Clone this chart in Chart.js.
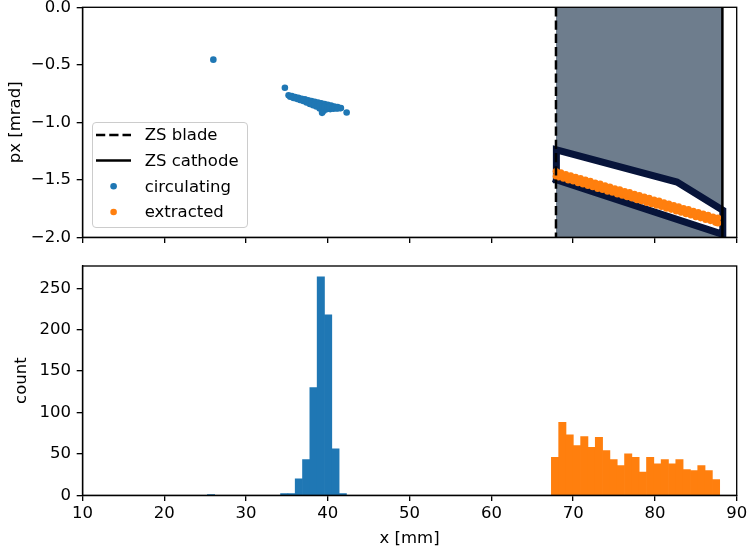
<!DOCTYPE html>
<html>
<head>
<meta charset="utf-8">
<script src="https://cdn.jsdelivr.net/npm/chart.js@4.4.1/dist/chart.umd.min.js"></script>
<style>
html,body{margin:0;padding:0;background:#fff;width:751px;height:550px;overflow:hidden;font-family:'DejaVu Sans',sans-serif;}
#c1{position:absolute;left:0;top:0;}
#c2{position:absolute;left:0;top:255px;}
#legend{position:absolute;left:91.7px;top:121.7px;width:156.6px;height:106.6px;box-sizing:border-box;border:1.3px solid #cccccc;border-radius:4px;background:rgba(255,255,255,0.8);z-index:5;}
#legend svg{position:absolute;left:-1.3px;top:-1.3px;}
.lg{position:absolute;left:52px;height:20px;line-height:20px;font-size:16.5px;color:#000;white-space:nowrap;}
</style>
</head>
<body>
<canvas id="c1" width="751" height="255"></canvas>
<canvas id="c2" width="751" height="295"></canvas>
<div id="legend">
  <svg width="157" height="107">
    <line x1="5" y1="14" x2="40" y2="14" stroke="#000" stroke-width="2.5" stroke-dasharray="9.25 4"></line>
    <line x1="5" y1="39.6" x2="40" y2="39.6" stroke="#000" stroke-width="2.5"></line>
    <circle cx="22.6" cy="65.3" r="3.3" fill="#1f77b4"></circle>
    <circle cx="22.6" cy="91" r="3.3" fill="#ff7f0e"></circle>
  </svg>
  <div class="lg" style="top:2.7px">ZS blade</div>
  <div class="lg" style="top:28.3px">ZS cathode</div>
  <div class="lg" style="top:54px">circulating</div>
  <div class="lg" style="top:79.7px">extracted</div>
</div>
<script>
// ---------------- data ----------------
const xTicks = [10, 20, 30, 40, 50, 60, 70, 80, 90];
const pxTicks = [-2.0, -1.5, -1.0, -0.5, 0.0];
const countTicks = [0, 50, 100, 150, 200, 250];

const bladeX = 67.9;      // ZS blade position [mm]
const cathodeX = 88.25;   // ZS cathode position [mm]

// circulating particles (x [mm], px [mrad])
const circX = [26.0, 34.75, 35.2, 35.6, 36.0, 36.4, 36.8, 37.2, 37.6, 38.0, 38.4, 38.8, 39.2, 39.6, 40.0, 40.4, 40.8, 41.2, 41.6,
               35.4, 35.8, 36.2, 36.6, 37.0, 37.4, 37.8, 38.2, 38.6, 39.0, 39.3, 39.5, 39.9, 40.3, 40.7, 41.1, 41.5,
               38.0, 38.4, 38.8, 39.0, 39.4, 39.6, 40.0, 40.2, 40.6, 40.8, 41.2, 42.3];
const circY = [-0.455, -0.700, -0.765, -0.772, -0.780, -0.788, -0.795, -0.800, -0.808, -0.815, -0.822, -0.828, -0.835, -0.842, -0.848, -0.855, -0.862, -0.868, -0.875,
               -0.778, -0.788, -0.796, -0.805, -0.815, -0.828, -0.840, -0.852, -0.862, -0.880, -0.918, -0.900, -0.885, -0.885, -0.882, -0.880, -0.878,
               -0.835, -0.845, -0.850, -0.855, -0.860, -0.865, -0.870, -0.868, -0.875, -0.872, -0.877, -0.915];

// extracted particles (x [mm], px [mrad])
const extrX = [67.9, 68.5, 69.1, 69.7, 70.3, 70.9, 71.5, 72.1, 72.7, 73.3, 73.9, 74.5, 75.1, 75.7, 76.3, 76.9, 77.5, 78.1, 78.7, 79.3,
               79.9, 80.5, 81.1, 81.7, 82.3, 82.9, 83.5, 84.1, 84.7, 85.3, 85.9, 86.5, 87.1, 87.7,
               67.9, 68.2, 68.8, 69.4, 70.0, 70.6, 71.2, 71.8, 72.4, 73.0, 73.6, 74.2, 74.8, 75.4, 76.0, 76.6, 77.2, 77.8, 78.4, 79.0,
               79.6, 80.2, 80.8, 81.4, 82.0, 82.6, 83.2, 83.8, 84.4, 85.0, 85.6, 86.2, 86.8, 87.4, 87.7,
               68.05, 68.65, 69.25, 69.85, 70.45, 71.05, 71.65, 72.25, 72.85, 73.45, 74.05, 74.65, 75.25, 75.85, 76.45, 77.05, 77.65,
               78.25, 78.85, 79.45, 80.05, 80.65, 81.25, 81.85, 82.45, 83.05, 83.65, 84.25, 84.85, 85.45, 86.05, 86.65, 87.25, 87.6];
const extrY = [-1.426, -1.436, -1.452, -1.462, -1.476, -1.486, -1.501, -1.511, -1.525, -1.535, -1.550, -1.560, -1.575, -1.585, -1.599, -1.609, -1.624, -1.634, -1.648, -1.659,
               -1.673, -1.683, -1.698, -1.708, -1.722, -1.732, -1.747, -1.757, -1.771, -1.782, -1.796, -1.806, -1.821, -1.831,
               -1.470, -1.478, -1.488, -1.503, -1.513, -1.527, -1.538, -1.552, -1.562, -1.577, -1.587, -1.601, -1.611, -1.626, -1.636, -1.650, -1.661, -1.675, -1.685, -1.700,
               -1.710, -1.724, -1.734, -1.749, -1.759, -1.773, -1.784, -1.798, -1.808, -1.823, -1.833, -1.847, -1.857, -1.872, -1.877,
               -1.452, -1.463, -1.477, -1.487, -1.502, -1.512, -1.526, -1.537, -1.551, -1.561, -1.576, -1.586, -1.600, -1.610, -1.625, -1.635, -1.649,
               -1.660, -1.674, -1.684, -1.699, -1.709, -1.724, -1.734, -1.748, -1.758, -1.773, -1.783, -1.797, -1.808, -1.822, -1.832, -1.847, -1.853];

// extraction acceptance polygon (top and bottom boundaries)
const polyTopX = [67.95, 82.7, 88.3];
const polyTopY = [-1.24, -1.52, -1.765];
const polyBotX = [67.95, 88.3];
const polyBotY = [-1.50, -1.975];

// histogram of x
const circBinCenters = [25.718, 34.668, 35.563, 36.458, 37.353, 38.248, 39.143, 40.038, 40.933, 41.828];
const circCounts     = [1, 2, 2, 20, 43, 130, 264, 218, 56, 2];
const extrBinCenters = [67.783, 68.678, 69.573, 70.468, 71.363, 72.258, 73.153, 74.048, 74.943, 75.838, 76.733, 77.628,
                        78.523, 79.418, 80.313, 81.208, 82.103, 82.998, 83.893, 84.788, 85.683, 86.578, 87.473];
const extrCounts     = [46, 88, 73, 60, 71, 58, 70, 54, 43, 36, 50, 46,
                        28, 46, 38, 43, 38, 43, 31, 30, 36, 30, 19];

// ---------------- styling ----------------
const BLUE = '#1f77b4', ORANGE = '#ff7f0e', NAVY = '#07143a', GRAY = '#6e7d8d';

Chart.defaults.font.family = "'DejaVu Sans', sans-serif";
Chart.defaults.font.size = 16.5;
Chart.defaults.color = '#000';

const frame = {
  id: 'frame',
  afterDraw(chart) {
    const {ctx, chartArea: a} = chart;
    ctx.save();
    ctx.strokeStyle = '#000';
    ctx.lineWidth = 1.33;
    ctx.strokeRect(a.left, a.top, a.right - a.left, a.bottom - a.top);
    ctx.restore();
  }
};

function fixAxis(size, vertical) {
  return function (scale) {
    if (vertical) scale.width = size; else scale.height = size;
    scale.paddingLeft = 0; scale.paddingRight = 0; scale.paddingTop = 0; scale.paddingBottom = 0;
  };
}
function setTicks(arr) {
  return function (scale) { scale.ticks = arr.map(v => ({value: v})); };
}
const gridOpts = {display: true, drawOnChartArea: false, drawTicks: true, tickLength: 5.8, tickWidth: 1.33, tickColor: '#000', color: '#000', lineWidth: 1.33, offset: false};
const borderOpts = {display: true, color: '#000', width: 1.33};
const fmtPx = v => { const s = (Math.abs(v) < 1e-9 ? 0 : v).toFixed(1); return s.replace('-', '\u2212'); };
const pts = (xs, ys) => xs.map((x, i) => ({x: x, y: ys[i]}));

// closed outline: bottom-left -> top boundary -> right -> bottom boundary back to bottom-left
const outlineX = [polyBotX[0]].concat(polyTopX).concat(polyBotX.slice().reverse());
const outlineY = [polyBotY[0]].concat(polyTopY).concat(polyBotY.slice().reverse());

// ---------------- top chart: phase space ----------------
new Chart(document.getElementById('c1'), {
  type: 'line',
  data: {
    datasets: [
      {label: 'ZS cathode', data: [{x: cathodeX, y: 0}, {x: cathodeX, y: -2}], borderColor: '#000', borderWidth: 2.5, pointRadius: 0, fill: false, order: 0},
      {label: 'ZS blade', data: [{x: bladeX, y: 0}, {x: bladeX, y: -2}], borderColor: '#000', borderWidth: 2.5, borderDash: [9.25, 4], pointRadius: 0, fill: false, order: 1},
      {label: 'circulating', data: pts(circX, circY), showLine: false, pointRadius: 3.3, pointBorderWidth: 0, pointBackgroundColor: BLUE, backgroundColor: BLUE, order: 2},
      {label: 'extracted', data: pts(extrX, extrY), showLine: false, pointRadius: 3.3, pointBorderWidth: 0, pointBackgroundColor: ORANGE, backgroundColor: ORANGE, order: 3},
      {label: 'outline', data: pts(outlineX, outlineY),
       borderColor: NAVY, borderWidth: 7, borderDash: [2000, 0], borderJoinStyle: 'miter', borderCapStyle: 'square', pointRadius: 0, fill: false, tension: 0, order: 4},
      {label: 'polyTop', data: pts(polyTopX, polyTopY), borderWidth: 0, pointRadius: 0, fill: '+1', backgroundColor: '#ffffff', order: 5},
      {label: 'polyBot', data: pts(polyBotX, polyBotY), borderWidth: 0, pointRadius: 0, fill: false, order: 6},
      {label: 'zone', data: [{x: bladeX, y: 0}, {x: cathodeX, y: 0}], borderWidth: 0, pointRadius: 0, fill: 'start', backgroundColor: GRAY, order: 7}
    ]
  },
  options: {
    responsive: false, animation: false, devicePixelRatio: 1,
    layout: {padding: {left: 0, right: 14.3, top: 7.3, bottom: 0}},
    plugins: {legend: {display: false}, tooltip: {enabled: false}},
    scales: {
      x: {type: 'linear', min: 10, max: 90, afterBuildTicks: setTicks(xTicks),
          ticks: {callback: () => '', padding: 0}, grid: gridOpts, border: borderOpts, afterFit: fixAxis(17.7, false)},
      y: {type: 'linear', min: -2, max: 0, afterBuildTicks: setTicks(pxTicks),
          ticks: {padding: 5.8, callback: v => fmtPx(v)}, grid: gridOpts, border: borderOpts,
          title: {display: true, text: 'px [mrad]', padding: {top: 5.9, bottom: 0}}, afterFit: fixAxis(82.5, true)}
    }
  },
  plugins: [frame]
});

// ---------------- bottom chart: histogram ----------------
new Chart(document.getElementById('c2'), {
  type: 'bar',
  data: {
    datasets: [
      {label: 'circulating', data: pts(circBinCenters, circCounts), backgroundColor: BLUE, borderWidth: 0, barPercentage: 1, categoryPercentage: 1, grouped: false},
      {label: 'extracted', data: pts(extrBinCenters, extrCounts), backgroundColor: ORANGE, borderWidth: 0, barPercentage: 1, categoryPercentage: 1, grouped: false}
    ]
  },
  options: {
    responsive: false, animation: false, devicePixelRatio: 1,
    layout: {padding: {left: 0, right: 14.3, top: 11, bottom: 0}},
    plugins: {legend: {display: false}, tooltip: {enabled: false}},
    scales: {
      x: {type: 'linear', offset: false, min: 10, max: 90, afterBuildTicks: setTicks(xTicks),
          ticks: {padding: 3, callback: v => String(v)}, grid: gridOpts, border: borderOpts,
          title: {display: true, text: 'x [mm]', padding: {top: 0, bottom: 1.4}}, afterFit: fixAxis(54.7, false)},
      y: {type: 'linear', min: 0, max: 277, afterBuildTicks: setTicks(countTicks),
          ticks: {padding: 5.8, callback: v => String(v)}, grid: gridOpts, border: borderOpts,
          title: {display: true, text: 'count', padding: {top: 12, bottom: 0}}, afterFit: fixAxis(82.5, true)}
    }
  },
  plugins: [frame]
});
</script>
</body>
</html>
